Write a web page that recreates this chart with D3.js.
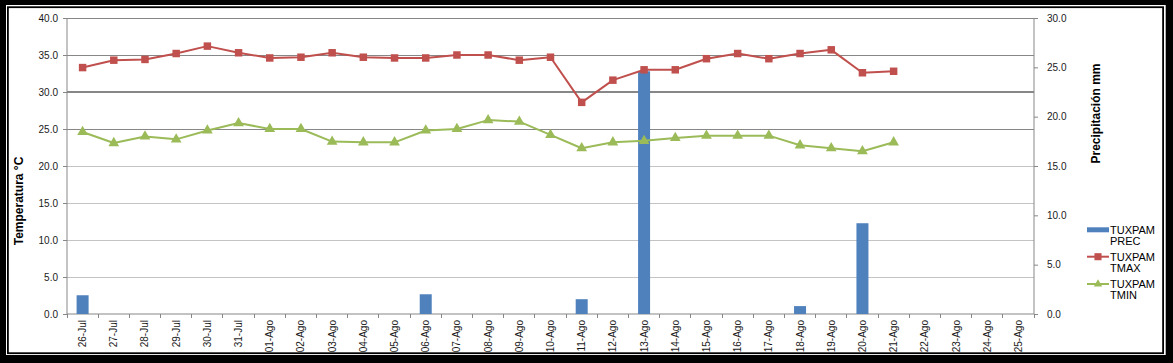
<!DOCTYPE html>
<html><head><meta charset="utf-8">
<script src="https://cdn.jsdelivr.net/npm/d3@7"></script>
<style>body{margin:0;background:#fff}svg{display:block;font-family:"Liberation Sans",Arial,sans-serif}</style>
</head><body><svg id="c" width="1173" height="363"></svg>
<script>
const categories = ["26-Jul","27-Jul","28-Jul","29-Jul","30-Jul","31-Jul","01-Ago","02-Ago","03-Ago","04-Ago","05-Ago","06-Ago","07-Ago","08-Ago","09-Ago","10-Ago","11-Ago","12-Ago","13-Ago","14-Ago","15-Ago","16-Ago","17-Ago","18-Ago","19-Ago","20-Ago","21-Ago","22-Ago","23-Ago","24-Ago","25-Ago"];
const prec = [1.9,0,0,0,0,0,0,0,0,0,0,2.0,0,0,0,0,1.5,0,24.6,0,0,0,0,0.8,0,9.2,0,0,0,0,0];
const tmax = [33.3,34.3,34.4,35.2,36.2,35.3,34.6,34.7,35.3,34.7,34.6,34.6,35.0,35.0,34.3,34.7,28.6,31.6,33.0,33.0,34.5,35.2,34.5,35.2,35.7,32.6,32.8,null,null,null,null];
const tmin = [24.6,23.1,24.0,23.6,24.8,25.8,25.0,25.0,23.3,23.2,23.2,24.8,25.0,26.2,26.0,24.2,22.4,23.2,23.4,23.8,24.1,24.1,24.1,22.8,22.4,22.0,23.2,null,null,null,null];
const leftTicks = [0,5,10,15,20,25,30,35,40];
const rightTicks = [0,5,10,15,20,25,30];
const leftTitle = "Temperatura °C";
const rightTitle = "Precipitación mm";
const legendItems = [["TUXPAM","PREC"],["TUXPAM","TMAX"],["TUXPAM","TMIN"]];

const svg = d3.select("#c");
const W=1173,H=363;
const L=67,R=1034,T=18,B=314;
const cBar="#4F81BD", cMax="#C0504D", cMin="#9BBB59";

// frame
svg.append("rect").attr("width",W).attr("height",H).attr("fill","#000");
svg.append("rect").attr("x",6).attr("y",5).attr("width",1159.7).attr("height",350).attr("fill","#fff");
svg.append("rect").attr("x",7.9).attr("y",7.2).attr("width",1155.2).attr("height",346).attr("fill","none").attr("stroke","#000").attr("stroke-width",1.8);

const x = d3.scaleBand().domain(categories).range([L,R]);
const yL = d3.scaleLinear().domain([0,40]).range([B,T]);
const yR = d3.scaleLinear().domain([0,30]).range([B,T]);

// gridlines
svg.append("g").selectAll("line").data(leftTicks.filter(d=>d>0)).join("line")
  .attr("x1",L).attr("x2",R).attr("y1",d=>yL(d)).attr("y2",d=>yL(d))
  .attr("stroke",d=>d>=25?"#878787":"#c4c4c4")
  .attr("stroke-width",d=>d===30?2:1)
  .attr("shape-rendering","crispEdges");

// axes
const axL = svg.append("g").attr("transform",`translate(${L},0)`)
  .call(d3.axisLeft(yL).tickValues(leftTicks).tickFormat(d3.format(".1f")).tickSize(4).tickPadding(5));
const axR = svg.append("g").attr("transform",`translate(${R},0)`)
  .call(d3.axisRight(yR).tickValues(rightTicks).tickFormat(d3.format(".1f")).tickSize(4).tickPadding(9));
[axL,axR].forEach(a=>{
  a.select(".domain").attr("stroke","#878787");
  a.selectAll(".tick line").attr("stroke","#878787");
  a.selectAll("text").attr("font-size",10).attr("fill","#1a1a1a").attr("font-family","Liberation Sans, Arial, sans-serif");
});
axL.select(".domain").attr("d",`M0,${B}V${T}`);
axR.select(".domain").attr("d",`M0,${B}V${T}`);

// x axis
const gx = svg.append("g").attr("transform",`translate(0,${B})`);
gx.append("line").attr("x1",L).attr("x2",R).attr("stroke","#878787");
gx.selectAll("line.t").data(categories.concat(["_end"])).join("line").attr("class","t")
  .attr("x1",(d,i)=>i<categories.length?x(d):R).attr("x2",(d,i)=>i<categories.length?x(d):R)
  .attr("y1",0).attr("y2",4).attr("stroke","#878787").attr("shape-rendering","crispEdges");
gx.selectAll("text").data(categories).join("text")
  .attr("transform",d=>`translate(${x(d)+x.bandwidth()/2+3.5},6) rotate(-90)`)
  .attr("text-anchor","end").attr("font-size",10).attr("fill","#1a1a1a").text(d=>d);

// bars
const bw = 12;
svg.append("g").selectAll("rect").data(categories.map((c,i)=>({c,v:prec[i]})).filter(d=>d.v>0)).join("rect")
  .attr("x",d=>x(d.c)+x.bandwidth()/2-bw/2).attr("width",bw)
  .attr("y",d=>yR(d.v)).attr("height",d=>yR(0)-yR(d.v)).attr("fill",cBar);

// lines
const cx = c=>x(c)+x.bandwidth()/2;
function series(vals,color,shape){
  const pts = categories.map((c,i)=>({c,v:vals[i]})).filter(d=>d.v!=null);
  svg.append("path").datum(pts).attr("fill","none").attr("stroke",color).attr("stroke-width",2)
    .attr("stroke-linejoin","round")
    .attr("d",d3.line().x(d=>cx(d.c)).y(d=>yL(d.v)));
  const sym = d3.symbol().type(shape).size(shape===d3.symbolSquare?56:50);
  svg.append("g").selectAll("path").data(pts).join("path")
    .attr("transform",d=>`translate(${cx(d.c)},${yL(d.v)})`).attr("d",sym).attr("fill",color);
}
series(tmax,cMax,d3.symbolSquare);
series(tmin,cMin,d3.symbolTriangle);

// axis titles
svg.append("text").attr("transform","translate(22.5,201) rotate(-90)").attr("text-anchor","middle")
  .attr("font-size",12).attr("font-weight","bold").attr("fill","#000").text(leftTitle);
svg.append("text").attr("transform","translate(1100,113.5) rotate(-90)").attr("text-anchor","middle")
  .attr("font-size",12).attr("font-weight","bold").attr("fill","#000").text(rightTitle);

// legend
const lg = svg.append("g");
const ly = [229.8,256.7,284];
const colors=[cBar,cMax,cMin];
legendItems.forEach((it,i)=>{
  if(i===0){
    lg.append("rect").attr("x",1087).attr("y",ly[i]-2.5).attr("width",22).attr("height",5).attr("fill",colors[i]);
  } else {
    lg.append("line").attr("x1",1087).attr("x2",1109).attr("y1",ly[i]).attr("y2",ly[i]).attr("stroke",colors[i]).attr("stroke-width",2);
    lg.append("path").attr("transform",`translate(1098,${ly[i]})`)
      .attr("d",d3.symbol().type(i===1?d3.symbolSquare:d3.symbolTriangle).size(i===1?50:30)).attr("fill",colors[i]);
  }
  lg.append("text").attr("x",1110).attr("y",ly[i]+3.8).attr("font-size",11).attr("fill","#000").text(it[0]);
  lg.append("text").attr("x",1110).attr("y",ly[i]+14.8).attr("font-size",11).attr("fill","#000").text(it[1]);
});
</script></body></html>
